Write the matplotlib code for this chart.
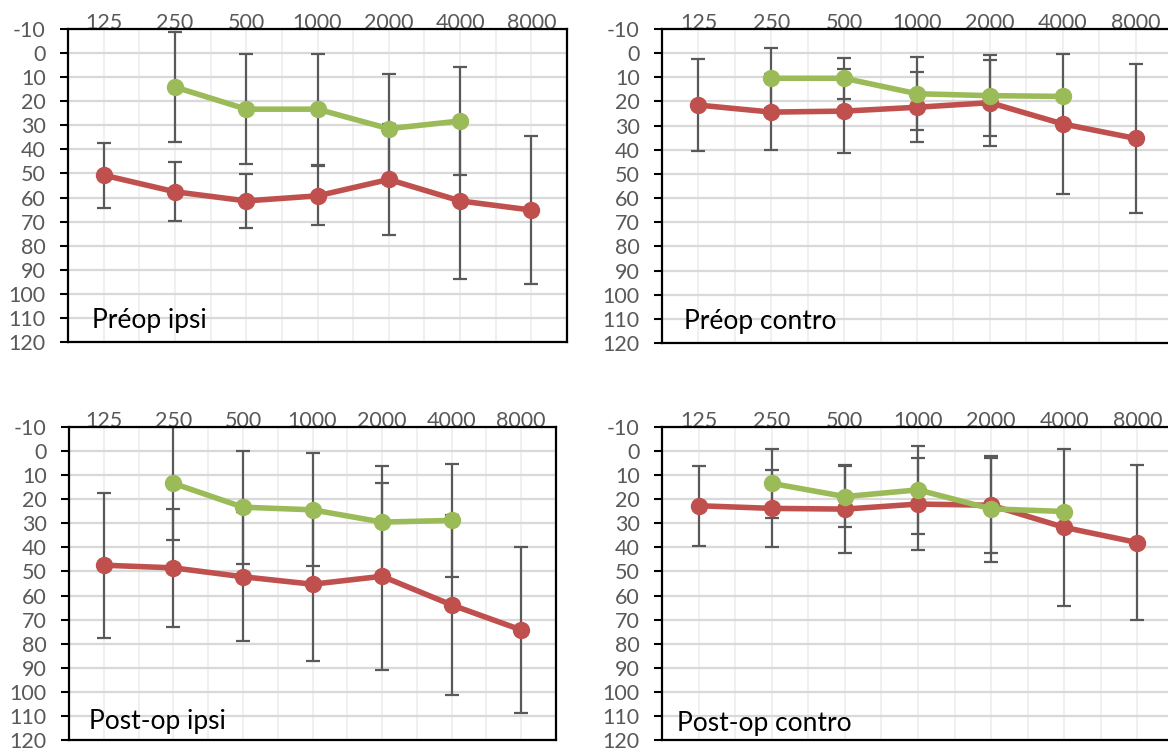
import numpy as np
import matplotlib
matplotlib.use("Agg")
import matplotlib.pyplot as plt

plt.rcParams['font.family'] = ['Lato', 'DejaVu Sans']

nan = np.nan
freqs = ['125', '250', '500', '1000', '2000', '4000', '8000']

preop_ipsi_red = [50.7, 57.6, 61.4, 59.3, 52.5, 61.4, 65.2]
preop_ipsi_red_sd = [13.5, 12.2, 11.2, 12.2, 23.0, 32.6, 30.6]
preop_ipsi_green = [nan, 14.1, 23.3, 23.3, 31.4, 28.2, nan]
preop_ipsi_green_sd = [nan, 22.8, 22.9, 23.1, 22.9, 22.6, nan]

preop_contro_red = [21.5, 24.4, 24.0, 22.4, 20.5, 29.3, 35.3]
preop_contro_red_sd = [19.0, 15.7, 17.3, 14.4, 17.8, 29.0, 31.0]
preop_contro_green = [nan, 10.4, 10.4, 16.8, 17.6, 17.9, nan]
preop_contro_green_sd = [nan, 12.4, 8.4, 15.2, 16.8, 0.0, nan]

postop_ipsi_red = [47.4, 48.5, 52.2, 55.3, 52.0, 63.9, 74.3]
postop_ipsi_red_sd = [30.1, 24.6, 26.8, 31.7, 38.8, 37.5, 34.3]
postop_ipsi_green = [nan, 13.4, 23.3, 24.4, 29.5, 28.8, nan]
postop_ipsi_green_sd = [nan, 23.6, 23.5, 23.4, 23.5, 23.4, nan]

postop_contro_red = [22.7, 23.8, 24.1, 22.0, 22.5, 31.7, 38.0]
postop_contro_red_sd = [16.6, 16.1, 18.2, 19.0, 19.8, 32.6, 32.2]
postop_contro_green = [nan, 13.4, 18.9, 16.1, 24.0, 25.1, nan]
postop_contro_green_sd = [nan, 14.2, 12.6, 18.2, 22.1, 0.0, nan]

titles = ['Préop ipsi', 'Préop contro', 'Post-op ipsi', 'Post-op contro']
yticks = list(range(-10, 121, 10))

RED = '#C0504D'
GREEN = '#9BBB59'
ERR = '#595959'
LABEL = '#595959'

W, H = 1168, 752
fig = plt.figure(figsize=(W / 100, H / 100), dpi=100)


def px_axes(x0, y0, x1, y1):
    return fig.add_axes([x0 / W, 1 - y1 / H, (x1 - x0) / W, (y1 - y0) / H])


panels = [
    (px_axes(68, 29, 567, 342), preop_ipsi_red, preop_ipsi_red_sd,
     preop_ipsi_green, preop_ipsi_green_sd, titles[0], (0.048, 0.045)),
    (px_axes(662, 29, 1172, 343), preop_contro_red, preop_contro_red_sd,
     preop_contro_green, preop_contro_green_sd, titles[1], (0.043, 0.045)),
    (px_axes(69, 427, 556, 740), postop_ipsi_red, postop_ipsi_red_sd,
     postop_ipsi_green, postop_ipsi_green_sd, titles[2], (0.042, 0.035)),
    (px_axes(662, 427, 1174, 740), postop_contro_red, postop_contro_red_sd,
     postop_contro_green, postop_contro_green_sd, titles[3], (0.03, 0.03)),
]

x = np.arange(len(freqs))
for ax, red, red_sd, green, green_sd, title, tpos in panels:
    ax.set_xlim(-0.5, len(freqs) - 0.5)
    ax.set_ylim(120, -10)
    ax.set_yticks(yticks)
    ax.set_yticklabels([str(v) for v in yticks])
    ax.xaxis.tick_top()
    ax.set_xticks(x)
    ax.set_xticklabels(freqs)
    ax.set_xticks(x[:-1] + 0.5, minor=True)
    ax.tick_params(axis='x', which='both', length=0, pad=-3,
                   labelsize=15.5, labelcolor=LABEL)
    ax.tick_params(axis='y', which='major', direction='out', length=6,
                   width=1.5, color='black', pad=10, labelsize=15.5,
                   labelcolor=LABEL)
    ax.set_axisbelow(True)
    ax.grid(axis='y', which='major', color='#D9D9D9', lw=1.6)
    ax.grid(axis='x', which='both', color='#EFEFEF', lw=1.3)
    for sp in ax.spines.values():
        sp.set_color('black')
        sp.set_linewidth(1.6)
        sp.set_zorder(6)

    ax.errorbar(x, red, yerr=red_sd, fmt='none', ecolor=ERR, elinewidth=1.6,
                capsize=5, capthick=1.6, zorder=3)
    ax.errorbar(x, green, yerr=green_sd, fmt='none', ecolor=ERR,
                elinewidth=1.6, capsize=5, capthick=1.6, zorder=3)
    ax.plot(x, red, color=RED, lw=4.0, marker='o', ms=11.5, zorder=4)
    ax.plot(x, green, color=GREEN, lw=4.0, marker='o', ms=11.5, zorder=5)

    ax.text(tpos[0], tpos[1], title, transform=ax.transAxes, fontsize=19,
            color='black', ha='left', va='baseline', zorder=7)

fig.savefig('out.png', dpi=100)
